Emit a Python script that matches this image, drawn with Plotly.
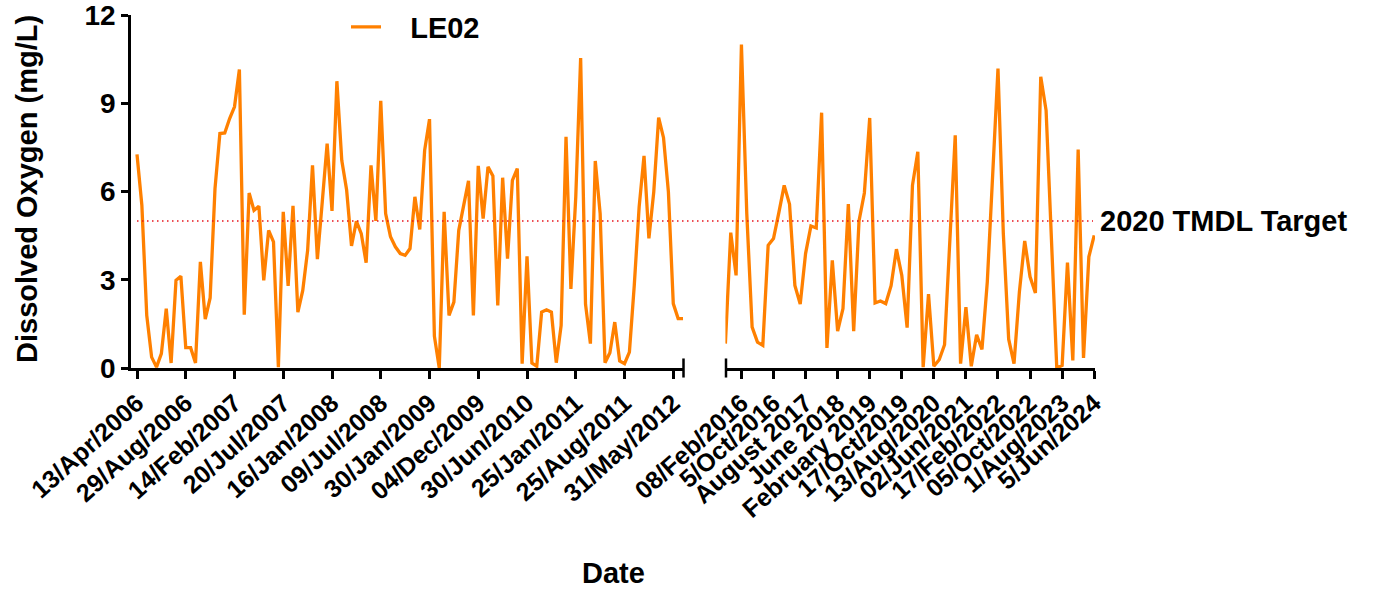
import plotly.graph_objects as go

# ---------------- data ----------------
SERIES_NAME = "LE02"
TMDL_TARGET = 5
TMDL_LABEL = "2020 TMDL Target"

# Segment 1 (2006-2012): sample order index -> dissolved oxygen (mg/L)
do_2006_2012 = [
    7.26, 5.53, 1.79, 0.37, 0.03, 0.49, 2.02, 0.17, 2.98, 3.12,
    0.69, 0.69, 0.17, 3.61, 1.66, 2.38, 6.10, 7.97, 7.99, 8.48,
    8.88, 10.15, 1.81, 5.95, 5.36, 5.50, 2.98, 4.68, 4.29, 0.03,
    5.31, 2.79, 5.51, 1.90, 2.64, 4.00, 6.89, 3.70, 5.65, 7.63,
    5.34, 9.75, 7.06, 6.05, 4.15, 4.99, 4.57, 3.58, 6.89, 5.00,
    9.08, 5.25, 4.46, 4.12, 3.89, 3.83, 4.06, 5.82, 4.71, 7.40,
    8.46, 1.08, 0.00, 5.31, 1.79, 2.24, 4.68, 5.59, 6.36, 1.79,
    6.87, 5.08, 6.84, 6.53, 2.13, 6.47, 3.72, 6.38, 6.78, 0.15,
    3.80, 0.17, 0.06, 1.90, 1.98, 1.90, 0.18, 1.45, 7.86, 2.69,
    5.82, 10.54, 2.17, 0.83, 7.04, 5.25, 0.18, 0.52, 1.56, 0.24,
    0.15, 0.54, 2.81, 5.48, 7.21, 4.41, 5.99, 8.51, 7.83, 5.99,
    2.19, 1.68, 1.68,
]
ticks_2006_2012 = [0, 10, 20, 30, 40, 50, 60, 70, 80, 90, 100, 110]
labels_2006_2012 = [
    "13/Apr/2006", "29/Aug/2006", "14/Feb/2007", "20/Jul/2007",
    "16/Jan/2008", "09/Jul/2008", "30/Jan/2009", "04/Dec/2009",
    "30/Jun/2010", "25/Jan/2011", "25/Aug/2011", "31/May/2012",
]

# Segment 2 (2016-2024)
do_2016_2024 = [
    0.83, 4.60, 3.15, 11.00, 5.25, 1.39, 0.88, 0.77, 4.17, 4.40,
    5.28, 6.21, 5.57, 2.81, 2.17, 3.89, 4.83, 4.76, 8.68, 0.68,
    3.66, 1.25, 2.02, 5.57, 1.25, 5.00, 5.95, 8.50, 2.21, 2.28,
    2.19, 2.80, 4.04, 3.15, 1.37, 6.21, 7.35, 0.03, 2.51, 0.06,
    0.28, 0.79, 4.36, 7.91, 0.15, 2.07, 0.06, 1.13, 0.63, 2.93,
    6.55, 10.18, 4.57, 0.98, 0.15, 2.58, 4.32, 3.10, 2.55, 9.90,
    8.76, 4.20, 0.00, 0.09, 3.58, 0.26, 7.43, 0.34, 3.78, 4.51,
]
ticks_2016_2024 = [3, 9, 15, 21, 27, 33, 39, 45, 51, 57, 63, 69]
labels_2016_2024 = [
    "08/Feb/2016", "5/Oct/2016", "August 2017", "June 2018",
    "February 2019", "17/Oct/2019", "13/Aug/2020", "02/Jun/2021",
    "17/Feb/2022", "05/Oct/2022", "1/Aug/2023", "5/Jun/2024",
]

y_ticks = [0, 3, 6, 9, 12]

# ---------------- style ----------------
ORANGE = "#FF8000"
FONT = "Liberation Sans, Arial, sans-serif"
FS_YTICK = 28
FS_XTICK = 25
FS_TEXT = 29

W, H = 1373, 590
SX0, SX1, SY0, SY1 = 131, 1095, 15, 368          # plot area in px
ML, MR, MT, MB = SX0, W - SX1, SY0, H - SY1
PW = SX1 - SX0
PH = SY1 - SY0

def px_x(p):
    return (p - SX0) / PW

def px_y(p):
    return (SY1 - p) / PH

fig = go.Figure()
fig.add_trace(go.Scatter(
    x=list(range(len(do_2006_2012))), y=do_2006_2012,
    mode="lines", name="\u00a0\u00a0\u00a0" + SERIES_NAME, legendgroup="le02",
    line=dict(color=ORANGE, width=3.3), xaxis="x", yaxis="y",
    cliponaxis=False,
))
fig.add_trace(go.Scatter(
    x=list(range(len(do_2016_2024))), y=do_2016_2024,
    mode="lines", name=SERIES_NAME, legendgroup="le02", showlegend=False,
    line=dict(color=ORANGE, width=3.3), xaxis="x2", yaxis="y",
    cliponaxis=False,
))

axis_common = dict(
    showline=True, linecolor="black", linewidth=2.5,
    ticks="outside", tickwidth=2.5, tickcolor="black",
    showgrid=False, zeroline=False, mirror=False,
    ticklabeloverflow="allow",
)
xtickfont = dict(family=FONT, size=FS_XTICK, color="black", weight="bold")
ytickfont = dict(family=FONT, size=FS_YTICK, color="black", weight="bold")

fig.update_layout(
    width=W, height=H,
    margin=dict(l=ML, r=MR, t=MT, b=MB, autoexpand=False),
    paper_bgcolor="white", plot_bgcolor="white",
    showlegend=True,
    legend=dict(
        x=px_x(346), y=px_y(27), xanchor="left", yanchor="middle",
        font=dict(family=FONT, size=FS_TEXT, color="black", weight="bold"),
        bgcolor="rgba(0,0,0,0)", borderwidth=0,
    ),
    xaxis=dict(
        domain=[0, px_x(684)], range=[-1.23, 112.2], anchor="y",
        tickmode="array", tickvals=ticks_2006_2012, ticktext=labels_2006_2012,
        tickangle=-42, ticklen=8, tickfont=xtickfont, **axis_common,
    ),
    xaxis2=dict(
        domain=[px_x(725.4), 1], range=[0, 69.15], anchor="y",
        tickmode="array", tickvals=ticks_2016_2024, ticktext=labels_2016_2024,
        tickangle=-42, ticklen=8, tickfont=xtickfont, **axis_common,
    ),
    yaxis=dict(
        domain=[0, 1], range=[0, 12.001], anchor="x",
        tickmode="array", tickvals=y_ticks, ticklen=7, tickfont=ytickfont,
        **axis_common,
    ),
)

# TMDL target dotted line spanning both segments
fig.add_shape(
    type="line", xref="paper", yref="y",
    x0=px_x(137), x1=px_x(1093), y0=TMDL_TARGET, y1=TMDL_TARGET,
    line=dict(color="#E8141C", width=1.5, dash="1.5px,3.5px"),
)
fig.add_annotation(
    text=TMDL_LABEL, xref="paper", yref="y", x=px_x(1098), y=TMDL_TARGET,
    xanchor="left", yanchor="middle", showarrow=False,
    font=dict(family=FONT, size=FS_TEXT, color="black", weight="bold"),
)

# axis-break end caps
for xp in (px_x(683.5), px_x(726)):
    fig.add_shape(
        type="line", xref="paper", yref="paper",
        x0=xp, x1=xp, y0=-0.027, y1=0.027,
        line=dict(color="black", width=2.5),
    )

# axis titles
fig.add_annotation(
    text="Dissolved Oxygen (mg/L)", xref="paper", yref="paper",
    x=px_x(27), y=px_y(189), textangle=-90,
    xanchor="center", yanchor="middle", showarrow=False,
    font=dict(family=FONT, size=FS_TEXT, color="black", weight="bold"),
)
fig.add_annotation(
    text="Date", xref="paper", yref="paper",
    x=px_x(613), y=px_y(573),
    xanchor="center", yanchor="middle", showarrow=False,
    font=dict(family=FONT, size=FS_TEXT, color="black", weight="bold"),
)

# remove the default page margin so the figure sits at the window origin
fig.write_html(
    "out.html",
    config={"displayModeBar": False},
    post_script="document.body.style.margin='0';"
                "document.body.style.padding='0';",
)
